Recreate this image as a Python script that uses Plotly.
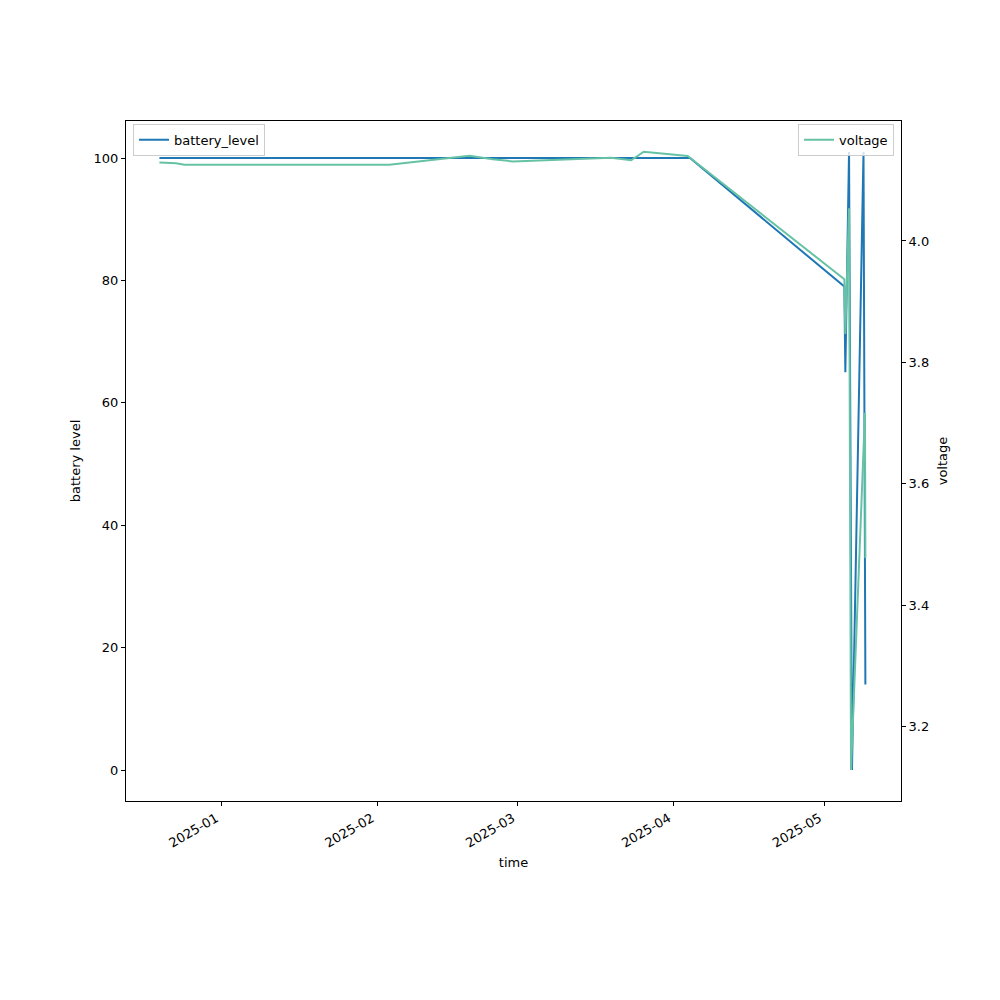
import plotly.graph_objects as go

# ---- data ----
battery_time = [
    "2024-12-19 17:30", "2025-04-04 06:00", "2025-05-04 22:30", "2025-05-05 03:20",
    "2025-05-05 21:00", "2025-05-06 11:00", "2025-05-08 18:00", "2025-05-09 03:00",
]
battery_level = [100, 100, 79, 65, 101, 0, 101, 14]

voltage_time = [
    "2024-12-19 17:30", "2024-12-23 01:00", "2024-12-24 17:00", "2025-02-03 11:00",
    "2025-02-19 09:00", "2025-02-24 00:40", "2025-02-28 00:00", "2025-03-19 13:00",
    "2025-03-23 13:00", "2025-03-26 01:00", "2025-04-03 19:00", "2025-04-04 06:00",
    "2025-05-04 22:30", "2025-05-05 03:20", "2025-05-05 21:00", "2025-05-06 06:30",
    "2025-05-09 01:00", "2025-05-09 03:00",
]
voltage = [
    4.129, 4.128, 4.1256, 4.1256,
    4.1404, 4.1345, 4.131, 4.1371,
    4.1328, 4.147, 4.1399, 4.137,
    3.937, 3.847, 4.054, 3.129,
    3.717, 3.478,
]

month_ticks = ["2025-01-01", "2025-02-01", "2025-03-01", "2025-04-01", "2025-05-01"]
month_labels = ["2025-01", "2025-02", "2025-03", "2025-04", "2025-05"]
left_ticks = [0, 20, 40, 60, 80, 100]
right_ticks = [3.2, 3.4, 3.6, 3.8, 4.0]

FONT = "DejaVu Sans"

fig = go.Figure()
fig.add_trace(go.Scatter(
    x=battery_time, y=battery_level, mode="lines", name="battery_level",
    line=dict(color="#1f77b4", width=2), yaxis="y", legend="legend",
))
fig.add_trace(go.Scatter(
    x=voltage_time, y=voltage, mode="lines", name="voltage",
    line=dict(color="#66c2a5", width=2), yaxis="y2", legend="legend2",
))

axis_common = dict(
    showgrid=False, zeroline=False, showline=True, linecolor="black", linewidth=1,
    ticks="outside", ticklen=4, tickcolor="black", tickwidth=1,
    tickfont=dict(family=FONT, size=13, color="black"),
)

fig.update_layout(
    width=1000, height=1000,
    margin=dict(l=118, r=107, t=113, b=207, autoexpand=False),
    paper_bgcolor="white", plot_bgcolor="white",
    showlegend=True,
    font=dict(family=FONT, size=13, color="black"),
    xaxis=dict(
        **axis_common, type="date", mirror=True,
        range=["2024-12-13 02:00", "2025-05-16 05:00"],
        tickvals=month_ticks, ticktext=month_labels, tickangle=-30,
        ticklabelshift=-5,
        title=dict(text="time", font=dict(family=FONT, size=13), standoff=8),
    ),
    yaxis=dict(
        **axis_common, mirror=True,
        range=[-5.05, 106.05], tickvals=left_ticks,
        title=dict(text="battery level", font=dict(family=FONT, size=13), standoff=10),
    ),
    yaxis2=dict(
        **axis_common, overlaying="y", side="right",
        range=[3.078, 4.1975], tickvals=right_ticks, tickformat=".1f",
        title=dict(text="voltage", font=dict(family=FONT, size=13), standoff=9),
    ),
    legend=dict(
        x=0.009, y=0.996, xanchor="left", yanchor="top",
        bgcolor="rgba(255,255,255,0.8)", bordercolor="#cccccc", borderwidth=1,
        font=dict(family=FONT, size=13), itemwidth=30,
    ),
    legend2=dict(
        x=0.991, y=0.996, xanchor="right", yanchor="top",
        bgcolor="rgba(255,255,255,0.8)", bordercolor="#cccccc", borderwidth=1,
        font=dict(family=FONT, size=13), itemwidth=30,
    ),
)

fig.write_html("out.html")
